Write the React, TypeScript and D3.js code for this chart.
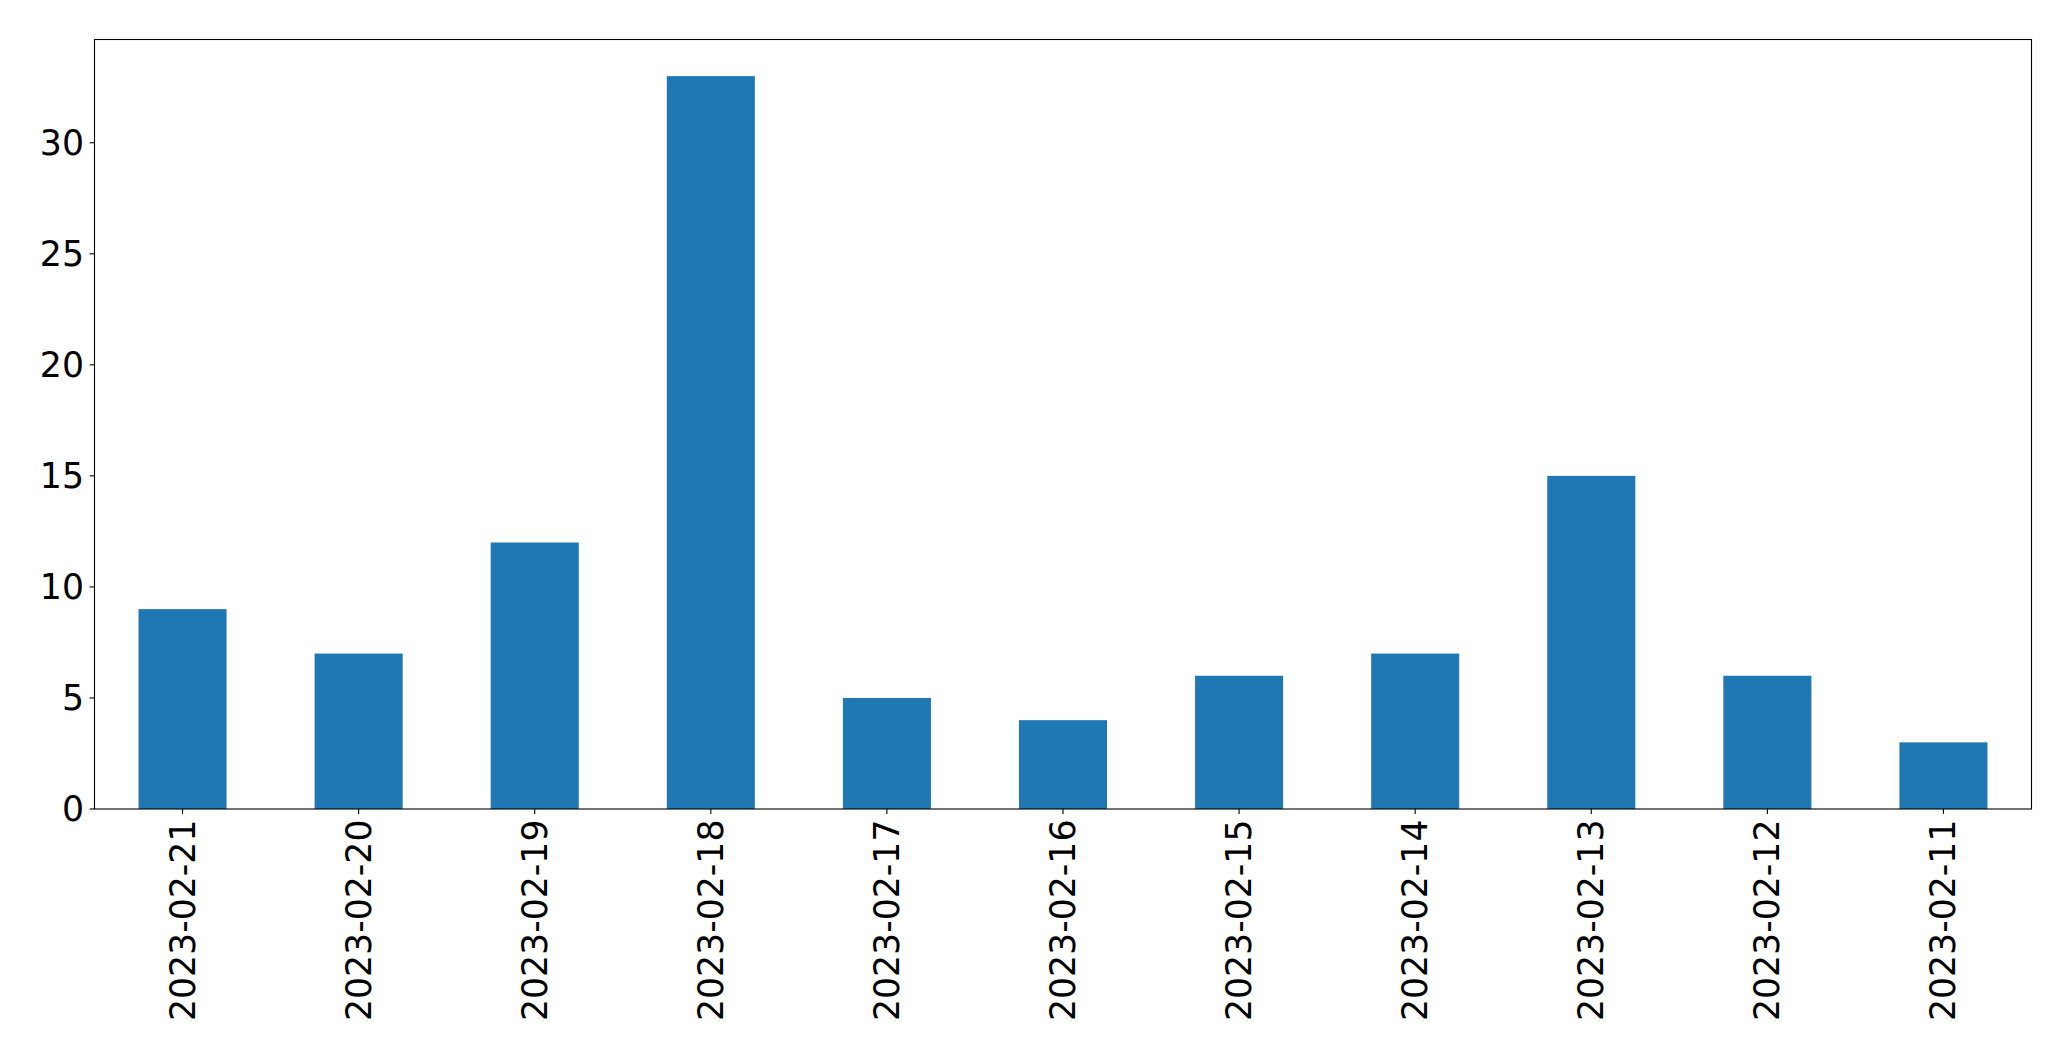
import React from "react";
import * as d3 from "d3";

const categories = ["2023-02-21","2023-02-20","2023-02-19","2023-02-18","2023-02-17","2023-02-16","2023-02-15","2023-02-14","2023-02-13","2023-02-12","2023-02-11"];
const values = [9, 7, 12, 33, 5, 4, 6, 7, 15, 6, 3];
const yTicks = [0, 5, 10, 15, 20, 25, 30];

const W = 2071, H = 1061;
const left = 94.5, right = 2031.5, top = 39.5, bottom = 809;
const font = "'DejaVu Sans', sans-serif";
const fs = 34.7;

export default function App() {
  const x = d3.scaleLinear().domain([-0.5, categories.length - 0.5]).range([left, right]);
  const y = d3.scaleLinear().domain([0, d3.max(values)! * 1.05]).range([bottom, top]);
  const bw = x(0.25) - x(-0.25);
  return (
    <svg width={W} height={H} style={{ position: "absolute", left: 0, top: 0, background: "#fff" }}>
      <rect x={0} y={0} width={W} height={H} fill="#fff" />
      {values.map((v, i) => (
        <rect key={i} x={x(i) - bw / 2} y={y(v)} width={bw} height={y(0) - y(v)} fill="#1f77b4" />
      ))}
      <rect x={left} y={top} width={right - left} height={bottom - top} fill="none" stroke="#000" strokeWidth={1.1} />
      {yTicks.map((t) => (
        <g key={t}>
          <line x1={left - 4.9} x2={left} y1={y(t)} y2={y(t)} stroke="#000" strokeWidth={1.1} />
          <text x={left - 10.5} y={y(t)} textAnchor="end" dominantBaseline="central" fontFamily={font} fontSize={fs} fill="#000">{t}</text>
        </g>
      ))}
      {categories.map((c, i) => (
        <g key={c}>
          <line x1={x(i)} x2={x(i)} y1={bottom} y2={bottom + 4.9} stroke="#000" strokeWidth={1.1} />
          <text transform={`translate(${x(i)},${bottom + 10.5}) rotate(-90)`} textAnchor="end" dominantBaseline="central" fontFamily={font} fontSize={fs} fill="#000">{c}</text>
        </g>
      ))}
    </svg>
  );
}
